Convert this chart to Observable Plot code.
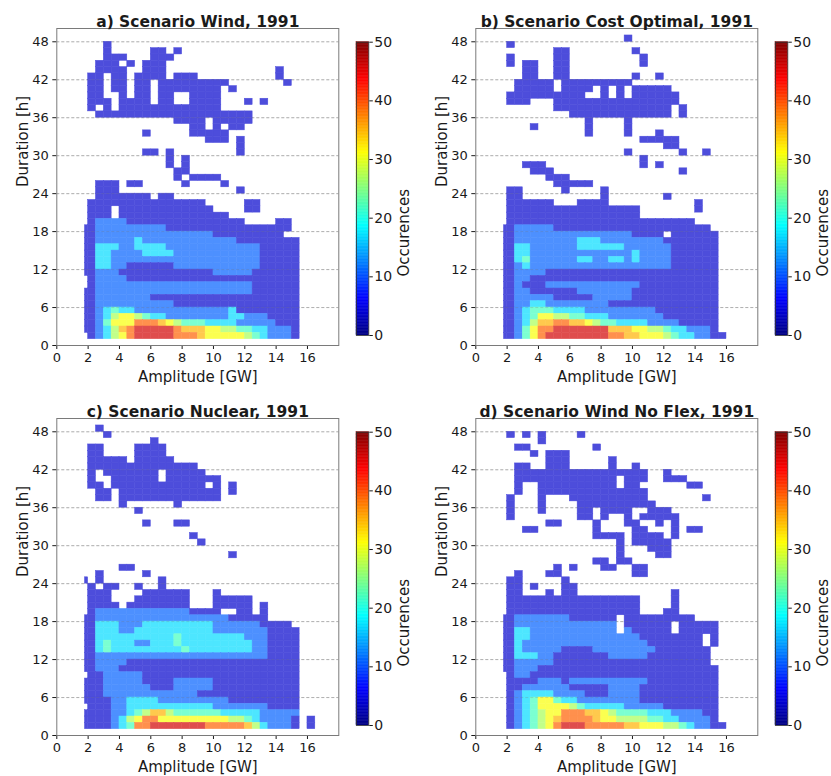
<!DOCTYPE html>
<html><head><meta charset="utf-8">
<script src="https://cdn.jsdelivr.net/npm/d3@7"></script>
<script src="https://cdn.jsdelivr.net/npm/@observablehq/plot@0.6"></script>
<style>
body{margin:0;background:#fff;}
#wrap{position:relative;width:831px;height:776px;overflow:hidden;background:#fff;}
#wrap svg{position:absolute;overflow:visible;}
</style></head><body><div id="wrap"></div>
<script>
// Tick labels
const amplitudeTicks = [0, 2, 4, 6, 8, 10, 12, 14, 16];
const durationTicks = [0, 6, 12, 18, 24, 30, 36, 42, 48];
const colorbarTicks = [0, 10, 20, 30, 40, 50];

const levelValues = {"1": 3.75, "2": 11, "3": 17, "4": 22, "5": 27, "6": 31, "7": 35, "8": 39, "9": 46};

// Amplitude bins: first bin 1.8-2.0 GW, then 0.5 GW bins from 2.0 GW (30 columns, grouped by 5).
// Rows: duration bins of 1 h, from 48 h (top) down to 1 h.
const firstBinStart = 1.8;
const windRows = [
"..... ..... ..... ..... ..... .....",
"...1. ..... ..... ..... ..... .....",
"...1. ....1 1.1.. ..... ..... .....",
"...11 1...1 11... ..... ..... .....",
"..111 .1.11 1.... ..... ..... .....",
"..111 1..11 1.... ..... ..... 1....",
".11.1 1.111 1.111 ..... ..... 1....",
".11.1 1.11. 11111 1111. ..... .1...",
".11.1 1.11. 11111 111.1 ..... .....",
".11.. 1.11. 11..1 111.. ..... .....",
".111. 1111. 11..1 111.. .1.1. .....",
".1.1. 11111 11111 111.. ..... .....",
"..111 11111 11111 11111 11... .....",
"..... ..... ..111 1.111 11... .....",
"..... ..... ....1 1.1.1 1.... .....",
"..... ...1. ....1 1111. ..... .....",
"..... ..... ..... .111. 1.... .....",
"..... ..... ..... ..... 1.... .....",
"..... ...11 .1... ..... 1.... .....",
"..... ..... .1.1. ..... ..... .....",
"..... ..... .1.1. ..... ..... .....",
"..... ..... ..11. ..... ..... .....",
"..... ..... ..1.1 111.. ..... .....",
"..111 .11.. ...1. ...1. ..... .....",
"..111 ..... ..... ..... 1.... .....",
"..111 1111. 11... ..... ..... .....",
".1111 11111 11111 1.... .11.. .....",
".111. 11111 11111 11... .11.. .....",
".111. 11111 11111 1111. ..... .....",
".1222 21111 11111 11111 1.... 11...",
"11222 22222 21111 11111 11111 11...",
"11222 22222 22222 22111 11111 1....",
"11222 22322 22222 22222 11111 111..",
"11333 22333 32222 22222 22211 111..",
"11332 22233 33222 22222 22211 111..",
"11332 22222 22222 22222 22211 111..",
"11332 21111 11222 22222 22211 111..",
"11222 11111 11111 11222 22111 111..",
".1222 21111 11111 11111 11111 111..",
".1222 22222 22222 22222 22111 111..",
"11222 22222 22222 22222 22111 111..",
"11222 22221 11111 11111 11111 111..",
"11222 22222 22111 11111 11111 111..",
"11234 33222 22222 22223 11111 111..",
"11235 66543 32222 22223 32221 111..",
"11246 66888 76544 43333 22222 111..",
"11235 78999 99877 76655 44332 221..",
".1235 68999 99888 76666 65432 221.."
];

const costOptimalRows = [
"..... ..... ..... .1... ..... .....",
".1... ..... ..... ..... ..... .....",
"..... ..11. ..... ..1.. ..... .....",
".1... ..11. ..... ...1. ..... .....",
".1.11 ..11. ..... ...1. ..... .....",
"...11 ..11. ..... ..... ..... .....",
"...11 ..11. ..... ..1.. 1.... .....",
"..111 11.11 11111 11... ..... .....",
"..111 11.11 11.1. 1.111 11... .....",
".1111 11111 1..1. 1.111 111.. .....",
".111. ..111 11111 11111 111.. .....",
"..... ..111 11111 11111 11.1. .....",
"..... ....1 11111 11111 11.1. .....",
"..... ..... .1... .1... ..... .....",
"....1 ..... .1... .1... ..... .....",
"..... ..... .1... .1... 1.... .....",
"..... ..... ..... ...11 111.. .....",
"..... ..... ..... ..... .11.. .....",
"..... ..... ..... .1... ...1. .1...",
"..... ..... ..... ...1. ..... .....",
"...11 1.... ..... ...1. 1.... .....",
"....1 11... ..... ..... ...1. .....",
"..... .111. ..... ..... ..... .....",
"..... ..111 11... ..... ..... .....",
".11.. ...1. ...1. ..... ..... .....",
".11.. ..... ...1. ..... .1... .....",
".1111 11... 1111. ..... ..... 1....",
".1111 11111 11111 111.. ..... 1....",
".1111 11111 11111 111.. ..... .....",
".1111 11111 11111 11111 11111 .....",
"11222 22111 11111 11111 11111 11...",
"11222 22222 22222 22111 1.111 111..",
"11222 22222 33322 22222 21111 111..",
"11332 22222 33333 32222 22111 111..",
"11332 22222 22222 22322 22111 111..",
"11342 22222 33223 32322 22111 111..",
"11232 22222 22222 22222 22111 111..",
"11222 21111 11111 11111 11111 111..",
"11221 11111 11111 11111 11111 111..",
"11211 12222 22222 22211 11111 111..",
"11221 11111 22222 22111 11111 111..",
"11222 22111 11222 22111 11111 111..",
"11223 32222 22221 11111 11111 111..",
"11234 44333 32222 22222 11111 111..",
"11234 66554 43332 22222 21111 111..",
"11235 77887 76544 33332 22211 111..",
"11246 88999 99997 77665 54332 221..",
"11246 89999 99998 87766 65433 2211."
];

const nuclearRows = [
"..1.. ..... ..... ..... ..... .....",
"...1. ..... ..... ..... ..... .....",
"..... ....1 ..... ..... ..... .....",
".11.. ..111 1.... ..... ..... .....",
".11.. ..111 1.... ..... ..... .....",
".1111 1.111 11... ..... ..... .....",
".1111 11111 11111 ..... ..... .....",
".1.11 11111 .1111 1.... ..... .....",
".1..1 11111 .1111 111.. ..... .....",
".11.1 11111 11111 1.1.1 ..... .....",
"..11. 11111 11111 111.1 ..... .....",
"..11. 11111 11111 111.. ..... .....",
"..... 1.... ..1.. ..... ..... .....",
"..... ..1.. ..... ..... ..... .....",
"..... ..... ..... ..... ..... .....",
"..... ...1. ..11. ..... ..... .....",
"..... ..... ..... ..... ..... .....",
"..... ..... ....1 ..... ..... .....",
"..... ..... ..... 1.... ..... .....",
"..... ..... ..... ..... ..... .....",
"..... ..... ..... ....1 ..... .....",
"..... ..... ..... ..... ..... .....",
"..... 11... ..... ..... ..... .....",
"..1.. ...1. ..... ..... ..... .....",
"1.1.. ..... 1.... ..... ..... .....",
".1.11 ..1.. 1.... ..... ..... .....",
".111. ...11 1111. ..1.. ..... .....",
".111. ..111 1111. ..111 11... .....",
".1111 .1111 1111. ..111 11.1. .....",
".1222 22222 22221 111.. 11.1. .....",
"11222 22222 22222 22221 1111. .....",
"11333 22233 33333 33222 22211 11...",
"11333 22333 33333 33222 22221 111..",
"11333 33333 33433 33333 32221 111..",
"11343 33223 33433 33333 33221 111..",
"11343 33333 33343 33333 33221 111..",
"11222 22222 22222 22222 22221 111..",
"11222 21111 11111 11111 11111 111..",
"11222 11111 11111 11111 11111 111..",
".1122 22211 11111 11111 11111 111..",
"11122 22211 11222 22111 11111 111..",
"11122 22221 11222 22111 11111 111..",
"11122 22222 22222 11111 11111 111..",
"11112 23333 22222 22221 11111 111..",
".1112 23333 33333 33222 22221 111..",
"11112 23457 75444 44433 33322 222..",
"11112 35688 66666 66665 54322 221.1",
"11112 34889 99999 98888 87532 221.1"
];

const windNoFlexRows = [
"..... ..... ..... ..... ..... .....",
".1.1. 1.... 1.... ..... ..... .....",
"..... 1.... ..... ..... ..... .....",
"..11. ..... ..1.. ..... ..... .....",
"....1 .111. ..... ..... ..... .....",
"..... .111. ....1 ..... ..... .....",
"..11. .111. ....1 ..1.. ..... .....",
"..111 11111 11111 1111. .1... .....",
"..111 11111 11111 .111. .111. .....",
"..1.. 11111 11111 .11.. ....1 1....",
"..1.. 11111 11111 1111. ..... .....",
".1... 1...1 11111 1111. ..... .1...",
".1... 1.... 11111 11111 ..... .....",
".1... 1.... 11.11 11..1 11... .....",
".1... ..... 11.1. .1.11 111.. .....",
"..... .11.. ..1.. .11.. 1.1.. .....",
"...11 ..... ..1.. ..11. ..1.1 1....",
"..... ..... ..111 1.111 1.1.. .....",
"..... ..... ..... 1.111 11... .....",
"..... ..... ..... 1...1 11... .....",
"..... ..... ..... 1.... 11... .....",
"..... ..... ..11. 11... ..... .....",
"..... ..1.1 ...11 ..11. ..... .....",
"..1.. .11.. ..... ..11. ..... .....",
".11.. ...1. ..... ..... ..... .....",
".11.1 ...11 ..... ..... ..... .....",
".11.. .1.11 ..... ..... ..1.. .....",
".1111 11111 11111 111.. ..1.. .....",
".1111 11111 11111 111.. ..1.. .....",
".1111 11111 11111 111.. .11.. .....",
"11222 22221 11111 .1111 11111 .....",
"11222 22222 22222 .1111 11.11 111..",
"11332 22222 22222 .2111 11.11 111..",
"11332 22222 22222 22211 11111 1.1..",
"11322 22222 22222 22221 11111 1.1..",
"11322 22211 11222 22222 11111 11...",
"11333 22111 11112 22221 11111 11...",
"11222 22111 11111 11111 11111 11...",
"11222 11111 11111 11111 11111 111..",
".1221 11111 11111 11111 11111 111..",
".1111 22212 22222 22221 11111 111..",
".1122 22221 11112 22211 11111 111..",
".1233 33222 21112 22211 11111 111..",
".1234 66433 22222 22211 11111 111..",
".1234 66665 43333 32222 21111 111..",
".1234 56688 87765 44443 33222 211..",
".1234 56788 88766 55554 43322 221..",
".1234 56899 98888 87766 65543 2211."
];

const panelTitles = ["a) Scenario Wind, 1991", "b) Scenario Cost Optimal, 1991", "c) Scenario Nuclear, 1991", "d) Scenario Wind No Flex, 1991"];
const panelRows = [windRows, costOptimalRows, nuclearRows, windNoFlexRows];

// jet colormap
function jetRGB(t) {
  const c = v => Math.max(0, Math.min(1, v));
  return [c(Math.min(4 * t - 1.5, -4 * t + 4.5)), c(Math.min(4 * t - 0.5, -4 * t + 3.5)), c(Math.min(4 * t + 0.5, -4 * t + 2.5))];
}
const jet = t => { const [r, g, b] = jetRGB(t); return `rgb(${Math.round(r * 255)},${Math.round(g * 255)},${Math.round(b * 255)})`; };
const jetAlpha = t => { const [r, g, b] = jetRGB(t); const f = v => Math.round(255 * (0.7 * v + 0.3)); return `rgb(${f(r)},${f(g)},${f(b)})`; };

function toCells(rows) {
  const cells = [];
  rows.forEach((row, r) => {
    const s = row.replace(/ /g, "");
    const h = 48 - r;
    for (let c = 0; c < s.length; c++) {
      const v = levelValues[s[c]];
      if (v !== undefined) cells.push({a0: c === 0 ? firstBinStart : 1.5 + 0.5 * c, a1: 2 + 0.5 * c, d0: h, d1: h + 1, v});
    }
  });
  return cells;
}

const wrap = document.getElementById("wrap");
const font = "DejaVu Sans";
const positions = [[0, 0], [418.7, 0], [0, 390], [418.7, 390]];

panelTitles.forEach((title, i) => {
  const [left, top] = positions[i];
  const cells = toCells(panelRows[i]);
  const main = Plot.plot({
    width: 345, height: 390,
    marginLeft: 56.3, marginRight: 6.7, marginTop: 28, marginBottom: 45,
    x: {domain: [0, 18]},
    y: {domain: [0, 50.1]},
    color: {type: "linear", domain: [0, 50], interpolate: jetAlpha},
    style: {fontFamily: font, fontSize: "13px", color: "#1a1a1a", background: "transparent", overflow: "visible"},
    marks: [
      Plot.gridY(durationTicks, {stroke: "#b5b5b5", strokeOpacity: 1, strokeDasharray: "3,2", strokeWidth: 0.8}),
      Plot.rect(cells, {x1: "a0", x2: "a1", y1: "d0", y2: "d1", fill: "v", stroke: "v", strokeWidth: 0.5}),
      Plot.gridY(durationTicks, {stroke: "#707070", strokeOpacity: 0.3, strokeDasharray: "3,2", strokeWidth: 0.8}),
      Plot.axisX(amplitudeTicks, {tickSize: 4, tickPadding: 3, fontSize: 13, label: null}),
      Plot.axisY(durationTicks, {tickSize: 4, tickPadding: 4, fontSize: 13, label: null}),
      Plot.frame({stroke: "#7a7a7a", strokeWidth: 1}),
      Plot.text([title], {text: d => d, frameAnchor: "top", dy: -12.5, fontWeight: "bold", fontSize: 15.5}),
      Plot.text(["Duration [h]"], {text: d => d, frameAnchor: "left", dx: -34, rotate: -90, fontSize: 15}),
      Plot.text(["Amplitude [GW]"], {text: d => d, frameAnchor: "bottom", dy: 36, fontSize: 15})
    ]
  });
  main.style.left = left + "px";
  main.style.top = top + "px";
  wrap.appendChild(main);

  const steps = d3.range(0, 50, 0.25);
  const bar = Plot.plot({
    width: 68, height: 390,
    marginLeft: 11, marginRight: 44.7, marginTop: 41.7, marginBottom: 55,
    x: {domain: [0, 1], axis: null},
    y: {domain: [0, 50]},
    color: {type: "linear", domain: [0, 50], interpolate: jet},
    style: {fontFamily: font, fontSize: "14px", color: "#1a1a1a", background: "transparent", overflow: "visible"},
    marks: [
      Plot.rect(steps, {x1: 0, x2: 1, y1: d => d, y2: d => d + 0.25, fill: d => d + 0.125, stroke: d => d + 0.125, strokeWidth: 0.5}),
      Plot.frame({stroke: "#333", strokeWidth: 0.8}),
      Plot.axisY(colorbarTicks, {anchor: "right", tickSize: 3.5, tickPadding: 2, fontSize: 14, label: null}),
      Plot.text(["Occurences"], {text: d => d, frameAnchor: "right", dx: 35, rotate: -90, fontSize: 15})
    ]
  });
  bar.style.left = (left + 345) + "px";
  bar.style.top = top + "px";
  wrap.appendChild(bar);
});
</script>
</body></html>
